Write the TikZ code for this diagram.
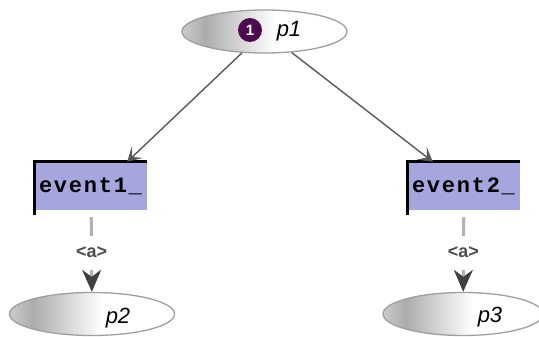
\documentclass[tikz,border=0pt]{standalone}
\usepackage{fontspec}
\setmainfont{Liberation Sans}
\newfontfamily\evfont{Liberation Mono}[LetterSpace=8]
\usetikzlibrary{shapes.geometric,arrows.meta}
\definecolor{evfill}{RGB}{166,166,222}
\definecolor{tokcol}{RGB}{78,10,78}
\pgfdeclarehorizontalshading{placeshade}{100bp}{color(0bp)=(gray!40); color(25bp)=(gray!40); color(32bp)=(gray!65); color(53bp)=(white); color(100bp)=(white)}
\tikzset{
  place/.style={ellipse, draw=gray!75, line width=1.3pt, shade, shading=placeshade, minimum width=165pt, minimum height=43pt, inner sep=0pt},
  placelab/.style={anchor=base, font=\fontsize{22}{24}\selectfont\itshape},
  token/.style={circle, fill=tokcol, text=white, font=\bfseries\fontsize{15}{15}\selectfont, minimum size=24pt, inner sep=0pt},
  event/.style={rectangle, fill=evfill, minimum width=112pt, minimum height=48pt, text width=104pt, inner xsep=4pt, inner ysep=0pt, align=left, font=\evfont\bfseries\fontsize{22}{24}\selectfont},
  evborder/.style={line width=3pt},
  flow/.style={draw=black!65, line width=1.4pt, -{Stealth[length=14pt,width=16pt,inset=7pt]}},
  arcline/.style={draw=gray!60, line width=3pt, -{Stealth[length=22pt,width=19pt,inset=7pt,color=black!75]}},
  arclab/.style={fill=white, inner sep=2pt, minimum height=34pt, text=black!70, font=\bfseries\fontsize{18}{18}\selectfont}
}
\begin{document}
\begin{tikzpicture}[x=1pt,y=-1pt]
\useasboundingbox (0,0) rectangle (539,337);
\node[place] (p1) at (264.5,31.5) {};
\node[token] (t1) at (250,30) {1};
\node[placelab] (l1) at (289,37) {p1};
\node[event] (e1) at (91,186) {event1\_};
\node[event] (e2) at (464,186) {event2\_};
\node[place] (p2) at (92,314) {};
\node[placelab] (l2) at (118,323) {p2};
\node[place, minimum width=160pt] (p3) at (463,314) {};
\node[placelab] (l3) at (490,322) {p3};
\draw[evborder] ([yshift=-5pt]e1.south west) -- (e1.north west) -- (e1.north east);
\draw[evborder] ([yshift=-5pt]e2.south west) -- (e2.north west) -- (e2.north east);
\draw[flow] (p1) -- ([xshift=-20pt]e1.north east);
\draw[flow] (p1) -- ([xshift=25pt]e2.north west);
\draw[arcline, shorten <=7pt] (e1) -- node[arclab, pos=0.52] {<a>} (p2);
\draw[arcline, shorten <=7pt] (e2) -- node[arclab, pos=0.52] {<a>} (p3);
\end{tikzpicture}
\end{document}
